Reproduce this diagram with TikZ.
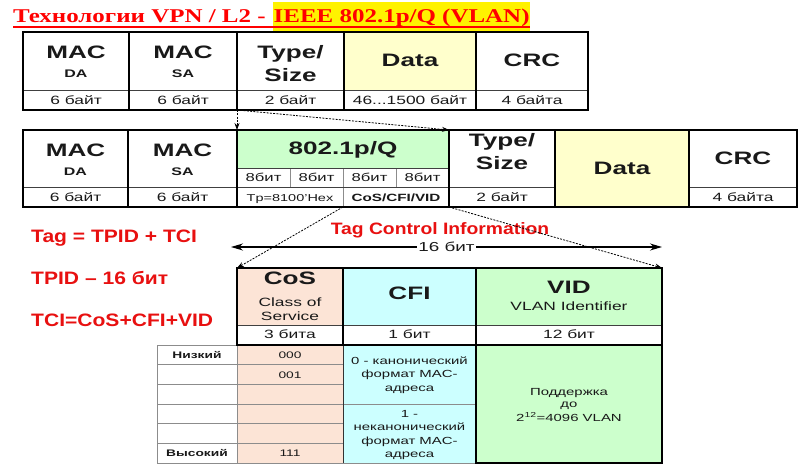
\documentclass[tikz,border=0pt]{standalone}
\usepackage{fontspec}
\setmainfont{Liberation Sans}[FakeStretch=1.45]
\newfontfamily\redsans{Liberation Sans}[FakeStretch=1.17]
\newfontfamily\titleserif{Liberation Serif}[FakeStretch=1.28]
\usetikzlibrary{arrows.meta,calc}
\definecolor{dataY}{RGB}{255,255,204}
\definecolor{pqG}{RGB}{204,255,204}
\definecolor{cosP}{RGB}{252,228,214}
\definecolor{cfiC}{RGB}{204,255,255}
\definecolor{redT}{RGB}{232,16,16}
\definecolor{ink}{RGB}{25,25,25}
\newcommand\cellbox[6]{\node[cellbase,#6,minimum width={(#4-#2)*1pt},minimum height={(#5-#3)*1pt}] (#1) at ({(#2+#4)/2},{(#3+#5)/2}) {};}
\newcommand\tx[5]{\node[txt,#4] (#1) at (#2,#3) {#5};}
\tikzset{
  cellbase/.style={rectangle, draw=black!75, line width=0.7pt, inner sep=0pt, outer sep=0pt, fill=white},
  grey/.style={draw=black!45, line width=0.6pt},
  thickcol/.style={draw=black, line width=2pt},
  txt/.style={anchor=base, inner sep=0pt, text=ink},
  L/.style={font=\bfseries\fontsize{18}{20}\selectfont},
  S/.style={font=\bfseries\fontsize{11}{13}\selectfont},
  B/.style={font=\fontsize{12}{14}\selectfont},
  T/.style={font=\fontsize{9.5}{11}\selectfont},
  TM/.style={font=\fontsize{10.3}{12}\selectfont},
  TB/.style={font=\bfseries\fontsize{9.5}{11}\selectfont},
  redlab/.style={anchor=base west, inner sep=0pt, text=redT, font=\redsans\bfseries\fontsize{18}{20}\selectfont},
  dotarr/.style={dash pattern=on 2pt off 1.3pt, line width=0.8pt, -{Stealth[length=7pt,width=5pt]}},
  bigarr/.style={line width=1.2pt, {Stealth[length=12pt,width=7pt]}-{Stealth[length=12pt,width=7pt]}}
}
\begin{document}
\begin{tikzpicture}[x=1pt,y=-1pt]
\useasboundingbox (0,0) rectangle (807,476);
\fill[white] (0,0) rectangle (807,476);

% ---------- title ----------
\node[anchor=base west, inner sep=0pt, text=red, font=\titleserif\bfseries\fontsize{19.5}{22}\selectfont] (t1) at (13,23) {Технологии VPN / L2 -};
\node[anchor=base west, inner xsep=0.5pt, inner ysep=0pt, fill=yellow, text height=21pt, text depth=8pt, text=red, font=\titleserif\bfseries\fontsize{19.5}{22}\selectfont] (t2) at (273,23) {IEEE 802.1p/Q (VLAN)};
\draw[red, line width=1.2pt] ($(t1.base west)+(0,4)$) -- ($(t2.base east)+(0,4)$);

% ---------- frame 1 ----------
\cellbox{a1}{23}{32}{129}{90}{}
\cellbox{a1b}{23}{90}{129}{110}{}
\cellbox{a2}{129}{32}{237}{90}{}
\cellbox{a2b}{129}{90}{237}{110}{}
\cellbox{a3}{237}{32}{344}{90}{}
\cellbox{a3b}{237}{90}{344}{110}{}
\cellbox{a4}{344}{32}{476}{90}{fill=dataY}
\cellbox{a4b}{344}{90}{476}{110}{}
\cellbox{a5}{476}{32}{588}{90}{}
\cellbox{a5b}{476}{90}{588}{110}{}
\foreach \u/\v in {a1/a1b,a2/a2b,a3/a3b,a4/a4b,a5/a5b}
  \draw[thickcol] (\u.north west) rectangle (\v.south east);

\tx{m1}{76}{58.5}{L}{MAC}
\tx{d1}{76}{78}{S}{DA}
\tx{y1}{76}{104.5}{B}{6 байт}
\tx{m2}{183}{58.5}{L}{MAC}
\tx{d2}{183}{78}{S}{SA}
\tx{y2}{183}{104.5}{B}{6 байт}
\tx{ty1}{290.5}{59}{L}{Type/}
\tx{sz1}{290.5}{82}{L}{Size}
\tx{y3}{290.5}{104.5}{B}{2 байт}
\tx{da1}{410}{66.5}{L}{Data}
\tx{y4}{410}{104.5}{B}{46...1500 байт}
\tx{cr1}{532}{66.5}{L}{CRC}
\tx{y5}{532}{104.5}{B}{4 байта}

% ---------- frame 2 ----------
\cellbox{b1}{23}{130}{128}{187}{}
\cellbox{b1b}{23}{187}{128}{207}{}
\cellbox{b2}{128}{130}{237}{187}{}
\cellbox{b2b}{128}{187}{237}{207}{}
\cellbox{b3}{237}{130}{449}{168}{fill=pqG}
\cellbox{b3a}{237}{168}{290}{187}{grey}
\cellbox{b3b}{290}{168}{343}{187}{grey}
\cellbox{b3c}{343}{168}{396}{187}{grey}
\cellbox{b3d}{396}{168}{449}{187}{grey}
\cellbox{b3e}{237}{187}{343}{207}{grey}
\cellbox{b3f}{343}{187}{449}{207}{grey}
\cellbox{b4}{449}{130}{555}{187}{}
\cellbox{b4b}{449}{187}{555}{207}{}
\cellbox{b5}{555}{130}{689}{207}{fill=dataY}
\cellbox{b6}{689}{130}{797}{187}{}
\cellbox{b6b}{689}{187}{797}{207}{}
\draw[black!75, line width=0.7pt] (b3a.north west) -- (b3d.north east);
\draw[black!75, line width=0.7pt] (b3e.north west) -- (b3f.north east);
\foreach \u/\v in {b1/b1b,b2/b2b,b3/b3f,b4/b4b,b5/b5,b6/b6b}
  \draw[thickcol] (\u.north west) rectangle (\v.south east);

\tx{m3}{75.5}{157}{L}{MAC}
\tx{d3}{75.5}{175.5}{S}{DA}
\tx{y6}{75.5}{201.5}{B}{6 байт}
\tx{m4}{182.5}{157}{L}{MAC}
\tx{d4}{182.5}{175.5}{S}{SA}
\tx{y7}{182.5}{201.5}{B}{6 байт}
\tx{pq}{343}{155}{L}{802.1p/Q}
\tx{e1}{263.5}{182}{font=\fontsize{11.5}{13}\selectfont}{8бит}
\tx{e2}{316.5}{182}{font=\fontsize{11.5}{13}\selectfont}{8бит}
\tx{e3}{369.5}{182}{font=\fontsize{11.5}{13}\selectfont}{8бит}
\tx{e4}{422.5}{182}{font=\fontsize{11.5}{13}\selectfont}{8бит}
\tx{tp}{290}{201.5}{font=\fontsize{10}{12}\selectfont}{Tp=8100'Hex}
\tx{cc}{396}{201.5}{font=\bfseries\fontsize{10.5}{12}\selectfont}{CoS/CFI/VID}
\tx{ty2}{502}{147}{L}{Type/}
\tx{sz2}{502}{170}{L}{Size}
\tx{y8}{502}{201.5}{B}{2 байт}
\tx{da2}{622}{174.5}{L}{Data}
\tx{cr2}{743}{165}{L}{CRC}
\tx{y9}{743}{201.5}{B}{4 байта}

% ---------- connectors frame1 -> frame2 ----------
\draw[dotarr] (a3b.south west) -- (b3.north west);
\draw[dotarr] (a3b.south west) -- (b3.north east);

% ---------- red labels ----------
\node[redlab] (tag) at (31,242.5) {Tag = TPID + TCI};
\node[redlab] (tpid) at (31,284.5) {TPID – 16 бит};
\node[redlab] (tcisum) at (31,326.5) {TCI=CoS+CFI+VID};
\node[anchor=base, inner sep=0pt, text=redT, font=\redsans\bfseries\fontsize{16.5}{18}\selectfont] (tcinfo) at (440,235) {Tag Control Information};

% ---------- TCI table ----------
\cellbox{cos}{237}{268}{343}{325}{fill=cosP}
\cellbox{cosb}{237}{325}{343}{345}{}
\cellbox{cfi}{343}{268}{476}{325}{fill=cfiC}
\cellbox{cfib}{343}{325}{476}{345}{}
\cellbox{vid}{476}{268}{662}{325}{fill=pqG}
\cellbox{vidb}{476}{325}{662}{345}{}

\cellbox{l1}{157}{345}{237}{364.7}{grey}
\cellbox{l2}{157}{364.7}{237}{384.3}{grey}
\cellbox{l3}{157}{384.3}{237}{404}{grey}
\cellbox{l4}{157}{404}{237}{423.7}{grey}
\cellbox{l5}{157}{423.7}{237}{443.3}{grey}
\cellbox{l6}{157}{443.3}{237}{463}{grey}
\cellbox{r1}{237}{345}{343}{364.7}{grey,fill=cosP}
\cellbox{r2}{237}{364.7}{343}{384.3}{grey,fill=cosP}
\cellbox{r3}{237}{384.3}{343}{404}{grey,fill=cosP}
\cellbox{r4}{237}{404}{343}{423.7}{grey,fill=cosP}
\cellbox{r5}{237}{423.7}{343}{443.3}{grey,fill=cosP}
\cellbox{r6}{237}{443.3}{343}{463}{grey,fill=cosP}
\cellbox{cf1}{343}{345}{476}{404}{grey,fill=cfiC}
\cellbox{cf2}{343}{404}{476}{463}{grey,fill=cfiC}
\cellbox{vx}{476}{345}{662}{463}{fill=pqG}
\draw[black!80, line width=1pt] (r1.north east) -- (r6.south east);
\foreach \u/\v in {cos/cosb,cfi/cfib,vid/vidb,vx/vx}
  \draw[thickcol] (\u.north west) rectangle (\v.south east);

\tx{cosT}{290}{284.5}{L}{CoS}
\tx{cls1}{290}{306.5}{font=\fontsize{12}{14}\selectfont}{Class of}
\tx{cls2}{290}{320}{font=\fontsize{12}{14}\selectfont}{Service}
\tx{bits1}{290}{338.5}{B}{3 бита}
\tx{cfiT}{409.5}{299.5}{L}{CFI}
\tx{bits2}{409.5}{338.5}{B}{1 бит}
\tx{vidT}{569}{294}{L}{VID}
\tx{vidS}{569}{311}{font=\fontsize{12}{14}\selectfont}{VLAN Identifier}
\tx{bits3}{569}{338.5}{B}{12 бит}

\tx{lo}{197}{358.5}{TB}{Низкий}
\tx{hi}{197}{456.5}{TB}{Высокий}
\tx{v0}{290}{358.5}{T}{000}
\tx{v1}{290}{378}{T}{001}
\tx{v7}{290}{456.5}{T}{111}
\tx{c1}{409.5}{364}{TM}{0 - канонический}
\tx{c2}{409.5}{377.5}{TM}{формат MAC-}
\tx{c3}{409.5}{391}{TM}{адреса}
\tx{c4}{409.5}{417}{TM}{1 -}
\tx{c5}{409.5}{430.5}{TM}{неканонический}
\tx{c6}{409.5}{444}{TM}{формат MAC-}
\tx{c7}{409.5}{457.5}{TM}{адреса}
\tx{s1}{569}{395}{TM}{Поддержка}
\tx{s2}{569}{407.5}{TM}{до}
\tx{s3}{569}{421}{TM}{2\textsuperscript{12}=4096 VLAN}

% ---------- 16 bit arrow ----------
\coordinate (al) at (231,247);
\coordinate (ar) at (662,247);
\draw[bigarr] (al) -- node[fill=white, inner xsep=1pt, inner ysep=0pt, text=ink, font=\fontsize{13}{15}\selectfont] (b16) {16 бит} (ar);

% ---------- connectors frame2 -> TCI ----------
\draw[dotarr] (b3f.south west) -- (cos.north west);
\draw[dotarr] (b3f.south east) -- (vid.north east);
\end{tikzpicture}
\end{document}
